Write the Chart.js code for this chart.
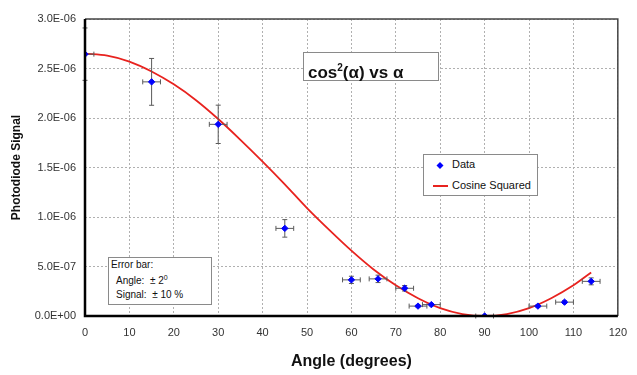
<!DOCTYPE html>
<html>
<head>
<meta charset="utf-8">
<script src="https://cdn.jsdelivr.net/npm/chart.js@4/dist/chart.umd.min.js"></script>
<style>
  body { margin: 0; background: #fff; }
  #wrap { position: relative; width: 637px; height: 375px; }
  .box { position: absolute; background: #fff; border: 1px solid #8a8a8a; font-family: 'Liberation Sans', Arial, sans-serif; color: #111; }
  #titleBox { left: 303px; top: 52px; width: 136px; height: 29px; font-weight: bold; font-size: 17px; line-height: 29px; padding-left: 4px; box-sizing: border-box; }
  #titleBox sup { font-size: 10px; }
  #legendBox { left: 423px; top: 154px; width: 115px; height: 42px; font-size: 11px; box-sizing: border-box; }
  #legendBox .row { position: absolute; left: 28px; }
  #errBox { left: 108px; top: 257px; width: 104px; height: 48px; font-family: 'Liberation Sans Narrow', 'Liberation Sans', Arial, sans-serif; font-size: 10px; box-sizing: border-box; }
  #errBox div { position: absolute; white-space: nowrap; }
</style>
</head>
<body>
<div id="wrap">
  <canvas id="myChart" width="637" height="375"></canvas>
  <div class="box" id="titleBox">cos<sup>2</sup>(α) vs α</div>
  <div class="box" id="legendBox">
    <svg width="40" height="42" style="position:absolute;left:0;top:0">
      <polygon points="16,7 19.5,10.5 16,14 12.5,10.5" fill="#0000ff"/>
      <line x1="9" y1="31" x2="24" y2="31" stroke="#e8231f" stroke-width="2"/>
    </svg>
    <div class="row" style="top:3px">Data</div>
    <div class="row" style="top:24px">Cosine Squared</div>
  </div>
  <div class="box" id="errBox">
    <div style="left:2px;top:1px">Error bar:</div>
    <div style="left:7px;top:16px">Angle:&nbsp; ± 2<sup style="font-size:7px">0</sup></div>
    <div style="left:7px;top:31px">Signal:&nbsp; ± 10 %</div>
  </div>
</div>
<script>
// measured points
const angles = [0, 15, 30, 45, 60, 66, 72, 75, 78, 90, 102, 108, 114];
const signals = [2.645e-6, 2.365e-6, 1.936e-6, 0.885e-6, 0.365e-6, 0.375e-6, 0.28e-6,
  0.10e-6, 0.115e-6, 0.0, 0.10e-6, 0.14e-6, 0.35e-6];

// error bar sizes
const angleErr = 2;      // degrees
const signalErrPct = 0.10;

// fitted curve
const curveAngles = [0, 5, 10, 15, 20, 25, 30, 35, 40, 45, 50, 55, 60, 65, 70, 75, 80, 85, 90, 95, 100, 105, 110, 114];
const curveSignals = [2.65e-6, 2.63e-6, 2.57e-6, 2.47e-6, 2.34e-6, 2.18e-6, 1.99e-6, 1.78e-6, 1.56e-6, 1.33e-6,
  1.09e-6, 0.87e-6, 0.66e-6, 0.47e-6, 0.31e-6, 0.18e-6, 0.08e-6, 0.02e-6, 0.0, 0.02e-6, 0.08e-6, 0.18e-6, 0.31e-6, 0.44e-6];

function fmtExp(v) {
  if (Math.abs(v) < 1e-12) return '0.0E+00';
  const parts = v.toExponential(1).split('e');
  const n = parseInt(parts[1], 10);
  return parts[0] + 'E' + (n < 0 ? '-' : '+') + String(Math.abs(n)).padStart(2, '0');
}

const errorBars = {
  id: 'errorBars',
  beforeDatasetDraw(chart, args) {
    if (args.index !== 0) return;
    const { ctx, scales: { x, y } } = chart;
    ctx.save();
    ctx.strokeStyle = '#5a5a5a';
    ctx.lineWidth = 1;
    angles.forEach((a, i) => {
      const s = signals[i];
      const px = x.getPixelForValue(a);
      const py = y.getPixelForValue(s);
      const x0 = x.getPixelForValue(a - angleErr), x1 = x.getPixelForValue(a + angleErr);
      ctx.beginPath();
      ctx.moveTo(Math.max(x0, chart.chartArea.left), py); ctx.lineTo(x1, py);
      if (x0 >= chart.chartArea.left) { ctx.moveTo(x0, py - 2.5); ctx.lineTo(x0, py + 2.5); }
      ctx.moveTo(x1, py - 2.5); ctx.lineTo(x1, py + 2.5);
      const e = s * signalErrPct;
      if (e > 0) {
        const y0 = y.getPixelForValue(s - e), y1 = y.getPixelForValue(s + e);
        ctx.moveTo(px, y0); ctx.lineTo(px, y1);
        ctx.moveTo(px - 2.5, y0); ctx.lineTo(px + 2.5, y0);
        ctx.moveTo(px - 2.5, y1); ctx.lineTo(px + 2.5, y1);
      }
      ctx.stroke();
    });
    ctx.restore();
  }
};

const frame = {
  id: 'frame',
  afterDatasetsDraw(chart) {
    const { ctx, chartArea: a } = chart;
    ctx.save();
    ctx.strokeStyle = '#444';
    ctx.lineWidth = 1.5;
    ctx.beginPath();
    ctx.moveTo(a.left, a.top); ctx.lineTo(a.right, a.top); ctx.lineTo(a.right, a.bottom);
    ctx.stroke();
    ctx.strokeStyle = '#000';
    ctx.lineWidth = 2.5;
    ctx.beginPath();
    ctx.moveTo(a.left, a.top); ctx.lineTo(a.left, a.bottom); ctx.lineTo(a.right, a.bottom);
    ctx.stroke();
    ctx.restore();
  }
};

Chart.defaults.font.family = "'Liberation Sans', Arial, sans-serif";
Chart.defaults.color = '#333';

new Chart(document.getElementById('myChart'), {
  type: 'scatter',
  data: {
    datasets: [
      {
        label: 'Data',
        data: angles.map((a, i) => ({ x: a, y: signals[i] })),
        pointStyle: 'rectRot',
        pointRadius: 3.2,
        backgroundColor: '#0000ff',
        borderColor: '#0000ff',
      },
      {
        label: 'Cosine Squared',
        data: curveAngles.map((a, i) => ({ x: a, y: curveSignals[i] })),
        showLine: true,
        pointRadius: 0,
        borderColor: '#e8231f',
        borderWidth: 1.8,
        cubicInterpolationMode: 'monotone',
      },
    ],
  },
  options: {
    responsive: false,
    animation: false,
    layout: { padding: { left: 0, right: 15, top: 19, bottom: 0 } },
    plugins: { legend: { display: false }, tooltip: { enabled: false } },
    scales: {
      x: {
        type: 'linear',
        min: 0,
        max: 120,
        ticks: { stepSize: 10, font: { size: 11 }, padding: 10 },
        grid: { color: '#b0b0b0', drawTicks: false },
        border: { display: false, dash: [2, 2] },
        title: { display: true, text: 'Angle (degrees)', font: { size: 16, weight: 'bold' }, color: '#111', padding: { top: 8 } },
        afterFit(scale) { scale.height = 59; },
      },
      y: {
        min: 0,
        max: 3e-6,
        ticks: { stepSize: 5e-7, font: { size: 11 }, padding: 9, callback: (v) => fmtExp(v) },
        grid: { color: '#b0b0b0', drawTicks: false },
        border: { display: false, dash: [2, 2] },
        title: { display: true, text: 'Photodiode Signal', font: { size: 12, weight: 'bold' }, color: '#111', padding: { top: 9, bottom: 0 } },
        afterFit(scale) { scale.width = 85; },
      },
    },
  },
  plugins: [errorBars, frame],
});
</script>
</body>
</html>
